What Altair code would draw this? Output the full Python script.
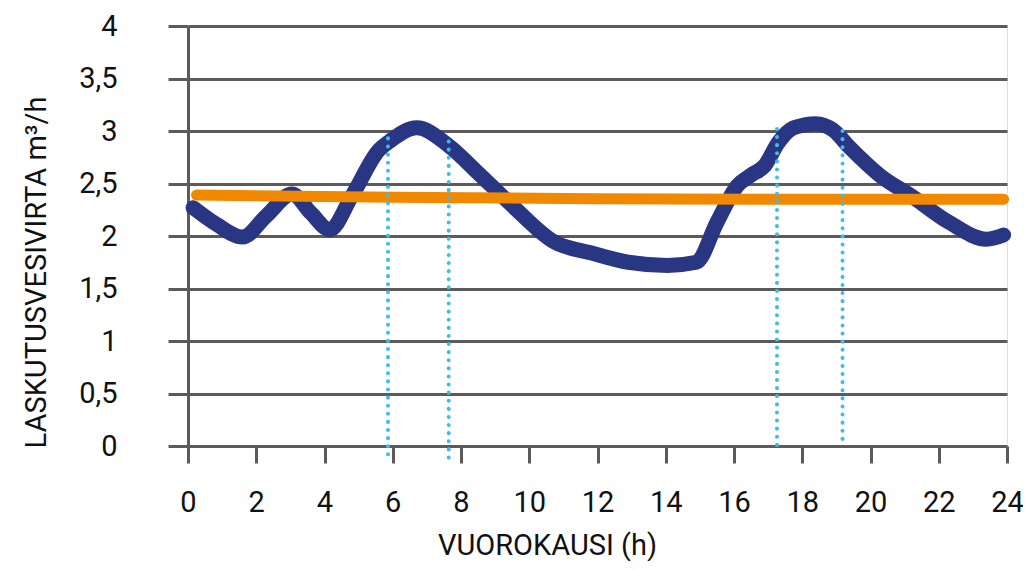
import altair as alt
import pandas as pd

# Blue measured flow curve (hour, m3/h)
flow_hours = [0.15, 0.84, 1.6, 2.29, 3.05, 3.6, 4.15, 4.8, 5.6, 5.9, 6.7, 7.64, 8.5, 9.5,
              10.75, 11.8, 12.9, 14.05, 14.9, 15.5, 16.1, 16.5, 16.9, 17.3, 17.75, 18.4,
              18.9, 19.4, 20.3, 21.2, 22.3, 23.4, 23.9]
flow_values = [2.27, 2.11, 1.99, 2.19, 2.40, 2.22, 2.06, 2.38, 2.82, 2.90, 3.03, 2.86, 2.60, 2.29,
               1.94, 1.84, 1.75, 1.72, 1.75, 2.13, 2.48, 2.58, 2.67, 2.89, 3.03, 3.07,
               3.01, 2.84, 2.57, 2.38, 2.13, 1.97, 2.01]

# Orange billing flow line
bill_hours = [0.25, 6, 12, 18, 23.9]
bill_values = [2.39, 2.37, 2.355, 2.35, 2.35]

# Dotted vertical markers
mark_hours = [5.86, 7.64, 17.26, 19.18]
mark_tops = [2.93, 2.90, 3.02, 3.00]
mark_bottoms = [-0.08, -0.11, 0.0, 0.0]

x_ticks = list(range(0, 25, 2))
y_ticks = [0, 0.5, 1, 1.5, 2, 2.5, 3, 3.5, 4]

FONT = "Roboto, Liberation Sans, sans-serif"
GRAY = "#5b5b5b"
TEXT = "#111111"

flow_df = pd.DataFrame({"h": flow_hours, "v": flow_values})
bill_df = pd.DataFrame({"h": bill_hours, "v": bill_values})
mark_df = pd.DataFrame({"h": mark_hours, "top": mark_tops, "bottom": mark_bottoms})

xscale = alt.Scale(domain=[0, 24], nice=False, zero=False)
yscale = alt.Scale(domain=[0, 4], nice=False)

x_axis = alt.Axis(
    values=x_ticks, grid=False, domain=False, ticks=True, tickSize=17, tickWidth=3,
    tickColor=GRAY, labelFont=FONT, labelFontSize=29, labelColor=TEXT,
    labelPadding=25, labelFlush=False, labelBaseline="top",
    title="VUOROKAUSI (h)", titleFont=FONT, titleFontSize=29, titleFontWeight="normal",
    titleColor=TEXT, titleX=359, titleY=108, titleBaseline="alphabetic",
    titleAnchor="start", titleAlign="center",
)
y_axis = alt.Axis(
    values=y_ticks, grid=True, gridColor=GRAY, gridWidth=3, gridOpacity=1,
    domain=True, domainColor=GRAY, domainWidth=3,
    ticks=True, tickSize=20, tickWidth=3, tickColor=GRAY,
    labelFont=FONT, labelFontSize=29, labelColor=TEXT, labelPadding=51,
    labelExpr="replace(toString(datum.value), '.', ',')",
    title="LASKUTUSVESIVIRTA m³/h", titleFont=FONT, titleFontSize=29,
    titleFontWeight="normal", titleColor=TEXT, titleAngle=270,
    titleX=-143, titleY=246, titleBaseline="alphabetic", titleAlign="center",
)

flow = alt.Chart(flow_df).mark_line(
    color="#283683", strokeWidth=15, interpolate="monotone", strokeCap="round", strokeJoin="round"
).encode(
    x=alt.X("h:Q", scale=xscale, axis=x_axis),
    y=alt.Y("v:Q", scale=yscale, axis=y_axis),
)

bill = alt.Chart(bill_df).mark_line(
    color="#f08800", strokeWidth=11, interpolate="monotone", strokeCap="round"
).encode(
    x=alt.X("h:Q", scale=xscale),
    y=alt.Y("v:Q", scale=yscale),
)

marks = alt.Chart(mark_df).mark_rule(
    color="#3dbded", strokeWidth=4, strokeDash=[0.1, 8], strokeCap="round"
).encode(
    x=alt.X("h:Q", scale=xscale),
    y=alt.Y("top:Q", scale=yscale),
    y2="bottom:Q",
)

chart = alt.layer(flow, bill, marks).properties(
    width=819, height=420,
    autosize=alt.AutoSizeParams(type="none"),
    padding={"left": 180, "top": 18, "right": 16, "bottom": 115},
).configure_view(stroke=None).configure(background="white")

chart.save("out.html", embed_options={"renderer": "svg", "actions": False})
